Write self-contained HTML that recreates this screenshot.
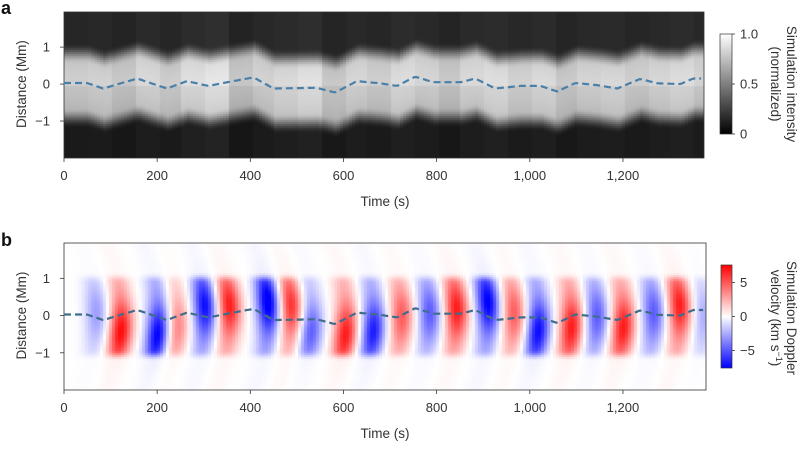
<!DOCTYPE html>
<html><head><meta charset="utf-8"><style>
html,body{margin:0;padding:0;background:#fff;width:800px;height:449px;overflow:hidden;font-family:"Liberation Sans",sans-serif;}
#root{position:relative;width:800px;height:449px;}
canvas{position:absolute;}
svg{position:absolute;left:0;top:0;}
</style></head><body>
<div id="root">
<canvas id="ca"></canvas>
<canvas id="cb"></canvas>
<svg id="sv" width="800" height="449"></svg>
</div>
<script>
// ---- data ----
const centroidTimes = [0,49,84,157,221,264,310,363,407,450,543,582,629,679,715,754,793,851,883,926,980,1023,1059,1098,1145,1188,1237,1274,1323,1351,1375];
const centroidValues = [0.03,0.03,-0.12,0.15,-0.12,0.08,-0.05,0.08,0.18,-0.12,-0.1,-0.23,0.08,0.02,-0.05,0.2,0.05,0.05,0.15,-0.12,-0.05,-0.05,-0.2,0.03,-0.03,-0.12,0.14,0.02,0,0.15,0.15];
const waveTimes = [67,120,200,240,300,352,436,485,528,603,662,722,782,840,908,963,1016,1087,1141,1198,1263,1319,1370];
const waveAmps = [-3,7.5,-8,4,-7.5,7,-8.5,6.5,-5,7,-7,5,-5,7,-8,5,-7.5,7,-5,7,-5,7,-2.5];
const waveCenters = [0.1,-0.4,-0.5,-0.3,0.3,0.3,0.4,0.3,-0.4,-0.5,-0.4,0,0.1,0.2,0.4,0.1,-0.4,-0.3,0,-0.3,0.1,0.3,0];
const columnBrightness = [0.0,0.02,-0.03,0.05,0.0,0.08,0.12,-0.04,0.02,0.06,0.1,-0.02,0.04,0.0,0.07,0.03,-0.03,0.05,0.08,0.02,0.06,-0.02,0.03,0.05,0.0,0.04,0.07,0.02];
const xTicks = [0,200,400,600,800,1000,1200];
const xTickLabels = ["0","200","400","600","800","1,000","1,200"];
const yTicks = [1,0,-1];
const yTickLabels = ["1","0","\u22121"];
const cbaTicks = [1.0,0.5,0];
const cbaLabels = ["1.0","0.5","0"];
const cbbTicks = [5,0,-5];
const cbbLabels = ["5","0","\u22125"];

// ---- geometry ----
const A = {x0:64,x1:704,y0:12,y1:158,ymax:1.95,ymin:-2.0,tmax:1375};
const B = {x0:64,x1:706,y0:243,y1:390,ymax:1.95,ymin:-2.0,tmax:1378};
const pxPerS = 0.4658;
function xs(P,t){return P.x0+t*pxPerS;}
function ys(P,v){return P.y0+(P.ymax-v)/(P.ymax-P.ymin)*(P.y1-P.y0);}
function centroid(t){
  for(let i=0;i<centroidTimes.length-1;i++){
    if(t<=centroidTimes[i+1]){const f=(t-centroidTimes[i])/(centroidTimes[i+1]-centroidTimes[i]);return centroidValues[i]+(centroidValues[i+1]-centroidValues[i])*f;}
  }
  return centroidValues[centroidValues.length-1];
}
function sm(e0,e1,x){const t=Math.min(1,Math.max(0,(x-e0)/(e1-e0)));return t*t*(3-2*t);}

// ---- panel a heatmap ----
(function(){
  const c=document.getElementById('ca');const w=A.x1-A.x0,h=A.y1-A.y0;
  c.width=w;c.height=h;c.style.left=A.x0+'px';c.style.top=A.y0+'px';
  const ctx=c.getContext('2d');const im=ctx.createImageData(w,h);
  for(let px=0;px<w;px++){
    const t=Math.floor(px/3)*3/pxPerS;
    const cb=columnBrightness[Math.floor(t/50)%columnBrightness.length]*0.5;
    const cen=centroid(t);
    for(let py=0;py<h;py++){
      const y=A.ymax-Math.floor(py/2)*2/h*(A.ymax-A.ymin);
      const d=y-cen;
      const inb=sm(1.1,0.55,d)*sm(-1.2,-0.65,d);
      let v=(y>0?0.15:0.1)+cb*0.6+inb*(0.6+cb+0.06*Math.cos(d*2));
      v=Math.max(0,Math.min(1,v));const g=Math.round(v*255);
      const k=(py*w+px)*4;im.data[k]=g;im.data[k+1]=g;im.data[k+2]=g;im.data[k+3]=255;
    }
  }
  ctx.putImageData(im,0,0);
})();

// ---- panel b heatmap ----
function bwr(v){const s=Math.max(-1,Math.min(1,v/7.8));
  if(s>=0)return [255,Math.round(255*(1-s)),Math.round(255*(1-s))];
  return [Math.round(255*(1+s)),Math.round(255*(1+s)),255];}
(function(){
  const c=document.getElementById('cb');const w=B.x1-B.x0,h=B.y1-B.y0;
  c.width=w;c.height=h;c.style.left=B.x0+'px';c.style.top=B.y0+'px';
  const ctx=c.getContext('2d');const im=ctx.createImageData(w,h);
  for(let px=0;px<w;px++){
    const t=Math.floor(px/3)*3/pxPerS;
    for(let py=0;py<h;py++){
      const y=B.ymax-Math.floor(py/2)*2/h*(B.ymax-B.ymin);
      let v=0;
      for(let i=0;i<waveTimes.length;i++){
        const tt=waveTimes[i]-8*y*y;
        const dt=(t-tt)/28;
        if(Math.abs(dt)>3)continue;
        const dy=(y-waveCenters[i])/0.8;
        const band=sm(1.2,0.9,y)*sm(-1.2,-0.9,y);
        v+=waveAmps[i]*Math.exp(-dt*dt*1.3)*(Math.exp(-dy*dy)*0.7+0.3)*(0.1+0.9*band);
      }
      const col=bwr(v);
      const k=(py*w+px)*4;im.data[k]=col[0];im.data[k+1]=col[1];im.data[k+2]=col[2];im.data[k+3]=255;
    }
  }
  ctx.putImageData(im,0,0);
})();

// ---- axes / svg ----
const NS='http://www.w3.org/2000/svg';const sv=document.getElementById('sv');
function mk(tag,attrs,txt){const e=document.createElementNS(NS,tag);for(const k in attrs)e.setAttribute(k,attrs[k]);if(txt!==undefined)e.textContent=txt;sv.appendChild(e);return e;}
function axes(P,tag){
  let e=mk('rect',{x:P.x0,y:P.y0,width:P.x1-P.x0,height:P.y1-P.y0,fill:'none',stroke:'#333','stroke-width':0.8});
  
  
  xTicks.forEach((t,i)=>{const x=xs(P,t);
    mk('line',{x1:x,x2:x,y1:P.y1,y2:P.y1+4,stroke:'#333','stroke-width':0.8});
    e=mk('text',{x:x,y:P.y1+22,'text-anchor':'middle','font-size':13,fill:'#333'},xTickLabels[i]);
    
    
  });
  yTicks.forEach((v,i)=>{const y=ys(P,v);
    mk('line',{x1:P.x0-4,x2:P.x0,y1:y,y2:y,stroke:'#333','stroke-width':0.8});
    e=mk('text',{x:P.x0-14,y:y+4.5,'text-anchor':'end','font-size':13,fill:'#333'},yTickLabels[i]);
    
    
  });
  e=mk('text',{x:385,y:P.y1+48,'text-anchor':'middle','font-size':13.5,fill:'#333'},'Time (s)');
  
  
  const cy=(ys(P,1)+ys(P,-1))/2;
  e=mk('text',{x:0,y:0,'text-anchor':'middle','font-size':13.5,fill:'#333',transform:`translate(26,${cy}) rotate(-90)`},'Distance (Mm)');
  
  
  let d='';for(let t=0;t<=P.tmax-5;t+=4){d+=(t?'L':'M')+xs(P,t).toFixed(1)+','+ys(P,centroid(t)).toFixed(1);}
  e=mk('path',{d:d,fill:'none',stroke:tag==='a'?'#4a7fa8':'#3f6e8c','stroke-width':2.2,'stroke-dasharray':'7,4'});
  
  
}
axes(A,'a');axes(B,'b');

let e=mk('text',{x:1,y:14,'font-size':18,'font-weight':'bold',fill:'#111'},'a');


e=mk('text',{x:1,y:246,'font-size':18,'font-weight':'bold',fill:'#111'},'b');



const defs=mk('defs',{});
const ga=document.createElementNS(NS,'linearGradient');ga.setAttribute('id','ga');ga.setAttribute('x1',0);ga.setAttribute('y1',1);ga.setAttribute('x2',0);ga.setAttribute('y2',0);
[['0','#000'],['1','#fff']].forEach(s=>{const st=document.createElementNS(NS,'stop');st.setAttribute('offset',s[0]);st.setAttribute('stop-color',s[1]);ga.appendChild(st);});
defs.appendChild(ga);
const gb=document.createElementNS(NS,'linearGradient');gb.setAttribute('id','gb');gb.setAttribute('x1',0);gb.setAttribute('y1',1);gb.setAttribute('x2',0);gb.setAttribute('y2',0);
[['0','#0000ff'],['0.5','#fff'],['1','#ff0000']].forEach(s=>{const st=document.createElementNS(NS,'stop');st.setAttribute('offset',s[0]);st.setAttribute('stop-color',s[1]);gb.appendChild(st);});
defs.appendChild(gb);
const CA={x:720,w:12,y0:34,y1:134,vmin:0,vmax:1};
const CB={x:721,w:11,y0:265,y1:368,vmin:-7.6,vmax:7.6};
function cbar(C,grad,ticks,labels,tag,title1,title2,tx,ty){
  let r=mk('rect',{x:C.x,y:C.y0,width:C.w,height:C.y1-C.y0,fill:`url(#${grad})`,stroke:'#333','stroke-width':0.7});
  
  
  ticks.forEach((v,i)=>{const y=C.y1-(v-C.vmin)/(C.vmax-C.vmin)*(C.y1-C.y0);
    mk('line',{x1:C.x+C.w,x2:C.x+C.w+3,y1:y,y2:y,stroke:'#333','stroke-width':0.8});
    const t=mk('text',{x:C.x+C.w+8,y:y+4.5,'font-size':13,fill:'#333'},labels[i]);
    
    
  });
  const t=mk('text',{'text-anchor':'middle','font-size':13.5,fill:'#333',transform:`translate(${tx},${ty}) rotate(90)`});
  const s1=document.createElementNS(NS,'tspan');s1.setAttribute('x',0);s1.setAttribute('y',0);s1.textContent=title1;t.appendChild(s1);
  const s2=document.createElementNS(NS,'tspan');s2.setAttribute('x',0);s2.setAttribute('y',16);s2.innerHTML=title2;t.appendChild(s2);
  
  
}
cbar(CA,'ga',cbaTicks,cbaLabels,'a','Simulation intensity','(normalized)',787,84);
cbar(CB,'gb',cbbTicks,cbbLabels,'b','Simulation Doppler','velocity (km s<tspan font-size="9" dy="-5">\u22121</tspan><tspan dy="5">)</tspan>',787,318);
</script>
</body></html>
